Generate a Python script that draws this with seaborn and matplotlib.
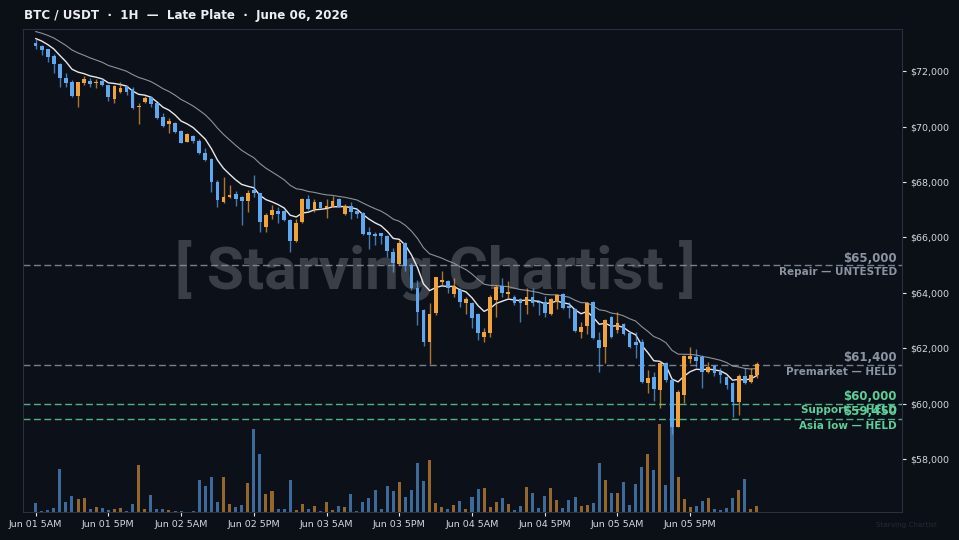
import numpy as np
import pandas as pd
import seaborn as sns
import matplotlib.pyplot as plt
from matplotlib.ticker import FuncFormatter

# --- DATA: BTC/USDT hourly candles, Jun 01 5AM -> Jun 06 4AM ---
OPENS = [73010, 72925, 72790, 72530, 72250, 71745, 71625, 71120, 71590, 71660,
         71565, 71650, 71505, 70990, 71265, 71470, 71350, 70700, 70870, 71050,
         70845, 70340, 70095, 70145, 69845, 69460, 69665, 69495, 69040, 68820,
         68015, 67295, 67450, 67560, 67450, 67330, 67700, 67595, 66390, 66815,
         66970, 66970, 66635, 65890, 66575, 67380, 67020, 67270, 67055, 67115,
         67380, 66830, 67140, 66970, 66900, 66210, 66130, 66150, 66055, 65490,
         65045, 65815, 65010, 64165, 63385, 62245, 63265, 64410, 64430, 63965,
         64105, 63650, 63650, 63240, 62425, 62565, 63745, 64250, 63965, 63865,
         63770, 63565, 63865, 63685, 63685, 63240, 63685, 63965, 63530, 63410,
         62605, 62810, 63685, 62305, 62060, 63145, 62665, 62880, 62565, 62240,
         62240, 60765, 60955, 60500, 61460, 60860, 59175, 60320, 61605, 61675,
         61675, 61160, 61365, 61160, 60955, 60740, 60075, 61005, 60800, 61040]
HIGHS = [73150, 72950, 72790, 72625, 72285, 71925, 71685, 71625, 71830, 71745,
         71720, 71745, 71505, 71505, 71625, 71505, 71420, 70865, 71110, 71110,
         70865, 70505, 70300, 70180, 69880, 69760, 69690, 69545, 69220, 68860,
         68075, 68195, 67895, 67690, 67500, 67715, 68250, 67620, 66895, 67175,
         67090, 66995, 66660, 66660, 67415, 67535, 67380, 67295, 67380, 67500,
         67415, 67200, 67295, 67020, 66935, 66370, 66210, 66175, 66090, 65610,
         65910, 65850, 65070, 64470, 63410, 63650, 64590, 64805, 64470, 64530,
         64165, 63865, 63685, 63265, 62725, 63925, 64290, 64530, 64445, 63925,
         63805, 64165, 64165, 63745, 63890, 63805, 63965, 64010, 63685, 63445,
         62965, 63675, 63720, 62605, 63050, 63170, 63325, 62905, 62605, 62605,
         62325, 61220, 61160, 61555, 61520, 60920, 60500, 61760, 62040, 61965,
         61760, 61520, 61400, 61280, 61005, 60800, 61075, 61280, 61280, 61520]
LOWS = [72805, 72590, 72320, 71925, 71420, 71420, 71085, 70700, 71505, 71420,
        71410, 71470, 70940, 70845, 71205, 71130, 70640, 70095, 70845, 70700,
        70265, 69975, 69760, 69760, 69400, 69435, 69425, 69015, 68775, 67655,
        67115, 67260, 67415, 67140, 66450, 66935, 67450, 66210, 66210, 66655,
        66515, 66610, 65490, 65850, 66515, 66995, 66935, 67055, 66695, 67090,
        67090, 66800, 66660, 66695, 66090, 65575, 65730, 65765, 65285, 64770,
        65010, 64805, 64105, 62845, 62085, 61435, 63205, 64290, 63985, 63865,
        63505, 63240, 62725, 62305, 62245, 62425, 63120, 63845, 63770, 63565,
        62965, 63240, 63530, 63205, 63145, 63205, 63410, 63410, 63085, 62605,
        62365, 62520, 62325, 61160, 61460, 62365, 62565, 62485, 62000, 61640,
        60740, 60380, 60115, 59835, 60800, 58900, 59150, 60015, 61485, 61340,
        60560, 61125, 61005, 60740, 60520, 59510, 59595, 60715, 60740, 60920]
CLOSES = [72925, 72770, 72505, 72250, 71745, 71565, 71110, 71600, 71710, 71540,
          71625, 71505, 71085, 71470, 71385, 71265, 70665, 70745, 71025, 70820,
          70300, 70025, 70220, 69820, 69425, 69735, 69495, 69040, 68800, 68015,
          67355, 67450, 67535, 67380, 67330, 67620, 67600, 66575, 66815, 67000,
          66850, 66635, 65890, 66515, 67380, 67020, 67295, 67080, 67140, 67330,
          67115, 67150, 66935, 66850, 66130, 66090, 66055, 66055, 65525, 65070,
          65815, 64975, 64165, 63325, 62245, 63240, 64565, 64470, 64165, 64250,
          63685, 63770, 63085, 62545, 62605, 63845, 64230, 63985, 64045, 63625,
          63625, 63845, 63625, 63625, 63290, 63770, 63925, 63445, 63445, 62640,
          62760, 63625, 62365, 62000, 63025, 62425, 62905, 62520, 62040, 62120,
          60800, 60920, 60520, 61460, 60860, 59175, 60440, 61725, 61725, 61555,
          61160, 61340, 61125, 61040, 60680, 60075, 61005, 60765, 61040, 61435]
VOLUMES = [280, 30, 70, 130, 1300, 290, 490, 380, 410, 100,
           150, 110, 60, 100, 110, 30, 230, 1410, 80, 500,
           100, 100, 60, 30, 30, 10, 20, 950, 790, 1040,
           290, 1050, 250, 140, 200, 880, 2500, 1730, 550, 630,
           100, 80, 970, 50, 230, 100, 170, 20, 300, 50,
           170, 140, 550, 30, 300, 410, 650, 100, 770, 620,
           890, 460, 670, 1480, 920, 1560, 260, 150, 80, 200,
           320, 100, 450, 700, 710, 150, 300, 430, 230, 70,
           190, 760, 580, 130, 490, 710, 350, 130, 350, 460,
           170, 210, 270, 1470, 950, 580, 580, 890, 200, 830,
           1340, 1730, 1250, 2630, 800, 3400, 1060, 400, 150, 190,
           330, 420, 80, 60, 110, 420, 660, 980, 90, 180]

TICK_LABELS = ["Jun 01 5AM", "Jun 01 5PM", "Jun 02 5AM", "Jun 02 5PM", "Jun 03 5AM",
               "Jun 03 5PM", "Jun 04 5AM", "Jun 04 5PM", "Jun 05 5AM", "Jun 05 5PM"]
TICK_EVERY = 12

LEVEL_PRICES = [65000, 61400, 60000, 59450]
LEVEL_NAMES = ["Repair — UNTESTED", "Premarket — HELD", "Support — HELD", "Asia low — HELD"]
LEVEL_COLORS = ["#8b94a3", "#8b94a3", "#5ccf98", "#5ccf98"]

# EMA warm-up anchors (the lines start above the first candle)
EMA_FAST_SPAN, EMA_FAST_SEED = 8, 73250
EMA_SLOW_SPAN, EMA_SLOW_SEED = 21, 73480

TITLE = "BTC / USDT  ·  1H  —  Late Plate  ·  June 06, 2026"

# --- COLORS ---
BG = "#0b0f16"
AX_BG = "#0c1018"
UP = "#f2a23a"
DOWN = "#5fa8f0"
GRID_SPINE = "#2a313d"
TEXT = "#d4d8de"

df = pd.DataFrame({"open": OPENS, "high": HIGHS, "low": LOWS,
                   "close": CLOSES, "volume": VOLUMES})
df["i"] = np.arange(len(df))
df["up"] = df["close"] >= df["open"]
df["color"] = np.where(df["up"], UP, DOWN)

fast = pd.Series([EMA_FAST_SEED] + CLOSES).ewm(span=EMA_FAST_SPAN, adjust=False).mean().iloc[1:]
slow = pd.Series([EMA_SLOW_SEED] + CLOSES).ewm(span=EMA_SLOW_SPAN, adjust=False).mean().iloc[1:]
df["ema_fast"] = fast.values
df["ema_slow"] = slow.values

sns.set_theme(style="dark", rc={
    "figure.facecolor": BG,
    "axes.facecolor": AX_BG,
    "axes.edgecolor": GRID_SPINE,
    "text.color": TEXT,
    "xtick.color": TEXT,
    "ytick.color": TEXT,
})
plt.rcParams["font.family"] = ["DejaVu Sans"]

fig = plt.figure(figsize=(9.59, 5.40), dpi=100)
ax = fig.add_axes([0.0245, 0.052, 0.9164, 0.894])
vax = ax.twinx()

# volume sits behind the price axes
ax.set_zorder(vax.get_zorder() + 1)
ax.patch.set_visible(False)
vax.patch.set_visible(True)
vax.patch.set_facecolor(AX_BG)
vax.bar(df["i"], df["volume"], width=0.5, color=df["color"], alpha=0.6, linewidth=0)
vax.set_ylim(0, 14500)
vax.set_yticks([])
vax.grid(False)
for s in vax.spines.values():
    s.set_visible(False)

# watermark
ax.text(0.468, 0.5, "[ Starving Chartist ]", transform=ax.transAxes,
        ha="center", va="center", fontsize=43.5, fontweight="bold",
        family=["Roboto", "DejaVu Sans"],
        color="#4a4f58", alpha=0.75, zorder=0.5)

# key levels
for price, name, col in zip(LEVEL_PRICES, LEVEL_NAMES, LEVEL_COLORS):
    ax.axhline(price, color=col, lw=1.0, ls=(0, (5, 2.5)), alpha=0.85, zorder=1)
    ax.annotate(f"${price:,.0f}", xy=(1, price), xycoords=ax.get_yaxis_transform(),
                xytext=(-4, 0.5), textcoords="offset points", ha="right", va="bottom",
                fontsize=8.5, fontweight="bold", color=col, zorder=6)
    ax.annotate(name, xy=(1, price), xycoords=ax.get_yaxis_transform(),
                xytext=(-4, -1.2), textcoords="offset points", ha="right", va="top",
                fontsize=7.5, fontweight="bold", color=col, zorder=6)

# moving averages
sns.lineplot(data=df, x="i", y="ema_slow", ax=ax, color="#8c919b", lw=0.8, zorder=2)
sns.lineplot(data=df, x="i", y="ema_fast", ax=ax, color="#e8e8ea", lw=1.0, zorder=2)

# candles
ax.vlines(df["i"], df["low"], df["high"], colors=df["color"], lw=1.0, alpha=0.7, zorder=3)
body_lo = df[["open", "close"]].min(axis=1)
body_h = (df["open"] - df["close"]).abs().clip(lower=25)
ax.bar(df["i"], body_h, bottom=body_lo, width=0.62, color=df["color"], linewidth=0, zorder=4)

ax.set_xlim(-2, 143)
ax.set_ylim(56100, 73515)
ax.set_xlabel("")
ax.set_ylabel("")
ax.grid(False)

ax.set_xticks(df["i"][::TICK_EVERY].values[:len(TICK_LABELS)])
ax.set_xticklabels(TICK_LABELS)
ax.yaxis.tick_right()
ax.set_yticks(range(58000, 72001, 2000))
ax.yaxis.set_major_formatter(FuncFormatter(lambda v, _: f"${v:,.0f}"))
ax.tick_params(axis="both", which="major", labelsize=6.8, length=3, width=0.8,
               colors="#e6e8ec", labelcolor=TEXT, pad=3)
ax.tick_params(axis="x", bottom=True)
ax.tick_params(axis="y", right=True, left=False)
for s in ax.spines.values():
    s.set_visible(True)
    s.set_color(GRID_SPINE)
    s.set_linewidth(0.8)

fig.text(0.025, 0.972, TITLE, ha="left", va="center", fontsize=8.55,
         fontweight="bold", color="#eceef1")
fig.text(0.945, 0.027, "Starving Chartist", ha="center", va="center",
         fontsize=5.2, color="#262b34")

fig.savefig("out.png", dpi=100, facecolor=BG)
